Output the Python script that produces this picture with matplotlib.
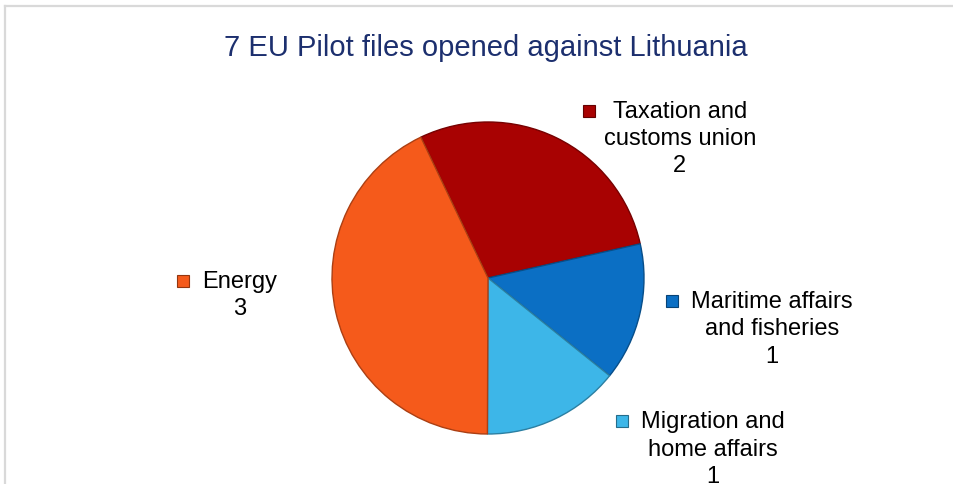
import matplotlib
matplotlib.use("Agg")
import matplotlib.pyplot as plt
from matplotlib.lines import Line2D
from matplotlib.colors import to_rgb
import numpy as np

plt.rcParams['font.family'] = ['Liberation Sans', 'DejaVu Sans']

# data
title = "7 EU Pilot files opened against Lithuania"
categories = ["Taxation and\ncustoms union", "Maritime affairs\nand fisheries",
              "Migration and\nhome affairs", "Energy"]
values = [2, 1, 1, 3]
colors = ["#a80202", "#0b6fc4", "#3db6e8", "#f55a1b"]

# label centres in pie-radius units (layout only)
label_pos = [(1.23, 0.89), (1.82, -0.33), (1.44, -1.10), (-1.59, -0.11)]
marker_gap = [24, 19, 19, 19]


def darker(c, f=0.6):
    r, g, b = to_rgb(c)
    return (r * f, g * f, b * f)


W, H = 954, 484
fig = plt.figure(figsize=(W / 100, H / 100), dpi=100)
ax = fig.add_axes([0, 0, 1, 1])

cx, cy, R = 488, 278, 156
wedges, _ = ax.pie(values, colors=colors, startangle=115.5, counterclock=False,
                   radius=1, center=(0, 0),
                   wedgeprops=dict(linewidth=1.0, antialiased=True))
for w, c in zip(wedges, colors):
    w.set_edgecolor(darker(c, 0.7))

ax.set_xlim(-cx / R, (W - cx) / R)
ax.set_ylim(-(H - cy) / R, cy / R)
ax.set_aspect('auto')
ax.axis('off')

fig.canvas.draw()
renderer = fig.canvas.get_renderer()
inv = ax.transData.inverted()

fs = 17
line_h = 28.5  # px between baselines
for cat, val, col, (lx, ly), gap in zip(categories, values, colors, label_pos, marker_gap):
    txt = cat + "\n" + str(val)
    ax.text(lx, ly, txt, ha='center', va='center', fontsize=fs,
            linespacing=1.31, color='black')
    # marker to the left of the first line
    first = cat.split("\n")[0]
    tmp = ax.text(lx, ly, first, ha='center', va='center', fontsize=fs)
    bb = tmp.get_window_extent(renderer)
    tmp.remove()
    nlines = txt.count("\n") + 1
    px0, py0 = ax.transData.transform((lx, ly))
    mx = px0 - bb.width / 2 - gap
    my = py0 + (nlines - 1) / 2 * line_h
    mdx, mdy = inv.transform((mx, my))
    ax.plot([mdx], [mdy], marker='s', markersize=8, color=col,
            markeredgecolor=darker(col, 0.6), markeredgewidth=0.8)

fig.text(486 / W, 1 - 48 / H, title, ha='center', va='center',
         fontsize=21, color='#1c2f6e')

# chart frame (top and left edges visible)
fig.add_artist(Line2D([5 / W, 1], [1 - 6 / H, 1 - 6 / H], color='#d9d9d9', lw=1.6))
fig.add_artist(Line2D([5 / W, 5 / W], [0, 1 - 6 / H], color='#d9d9d9', lw=1.6))

fig.savefig("out.png", dpi=100)
